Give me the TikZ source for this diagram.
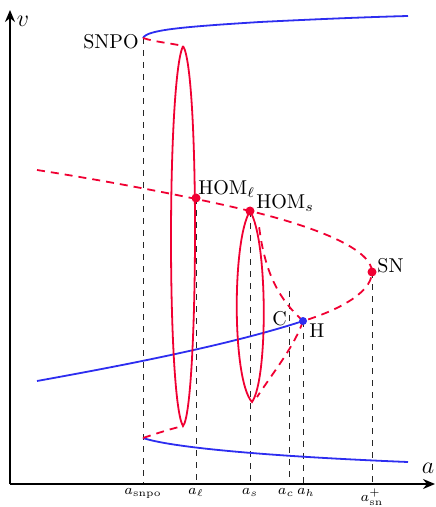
\documentclass[tikz,border=0pt]{standalone}
\usetikzlibrary{arrows.meta}
\definecolor{bred}{RGB}{240,0,50}
\definecolor{bblue}{RGB}{45,45,240}
\begin{document}
\begin{tikzpicture}[x=0.5pt,y=-0.5pt,
  axis/.style={line width=0.9pt,-{Stealth[length=6pt,width=5pt]}},
  guide/.style={dashed,line width=0.5pt,black!85},
  stab/.style={bblue,line width=0.9pt},
  unst/.style={bred,line width=0.9pt,dash pattern=on 4pt off 3pt},
  orb/.style={bred,line width=0.9pt},
  rdot/.style={circle,fill=bred,inner sep=0pt,minimum size=4.5pt},
  bdot/.style={circle,fill=bblue,inner sep=0pt,minimum size=4pt},
  tick/.style={anchor=north,font=\scriptsize,inner sep=1pt}]
\useasboundingbox (0,0) rectangle (435,507);
% key points
\coordinate (o) at (10,484);
\coordinate (snpo) at (143,38);
\coordinate (snpob) at (143,438);
\coordinate (Ltop) at (183,46);
\coordinate (Lbot) at (183,426);
\coordinate (homl) at (196,198);
\coordinate (homs) at (250,211);
\coordinate (Sbot) at (252,402);
\coordinate (sn) at (372,272);
\coordinate (h) at (303,321);
\coordinate (c) at (289,291);
\coordinate (ul) at (37,170);
\coordinate (sl) at (37,381);
\coordinate (ue) at (408,16);
\coordinate (le) at (408,462);
% guides
\foreach \p in {snpo,homl,homs,c,h,sn}{
  \draw[guide] (\p) -- (\p |- o);
}
\node[tick] (t1) at (143,486) {$a_{\mathrm{snpo}}$};
\node[tick] (t2) at (196,486) {$a_\ell$};
\node[tick] (t3) at (250,486) {$a_s$};
\node[tick] (t4) at (286,486) {$a_c$};
\node[tick] (t5) at (306,486) {$a_h$};
\node[tick] (t6) at (372,486) {$a_{\mathrm{sn}}^{+}$};
% axes
\coordinate (xend) at (435,484);
\coordinate (yend) at (10,10);
\draw[axis] (o) -- (xend);
\draw[axis] (o) -- (yend);
\node[font=\large] (vlab) at (23,21) {$v$};
\node[font=\large] (alab) at (428,468) {$a$};
% blue branches
\draw[stab] (snpo) .. controls (147,30) and (180,27) .. (260,22) .. controls (320,19) and (370,17) .. (ue);
\draw[stab] (snpob) .. controls (170,447) and (260,456) .. (le);
\draw[stab] (sl) .. controls (120,366) and (230,345) .. (h);
% unstable branches
\draw[unst] (snpo) .. controls (155,42) and (170,43) .. (Ltop);
\draw[unst] (snpob) .. controls (155,434) and (170,429) .. (Lbot);
\draw[unst] (ul) .. controls (120,183) and (200,199) .. (homs) .. controls (320,228) and (372,250) .. (sn) .. controls (372,295) and (330,313) .. (h);
\draw[unst] (h) .. controls (280,300) and (265,275) .. (259,226);
\draw[unst] (h) .. controls (295,345) and (275,370) .. (257,397);
% periodic orbit loops
\draw[orb] (Ltop) .. controls (167,80) and (167,400) .. (Lbot) .. controls (198,410) and (200,70) .. (Ltop);
\draw[orb] (homs) .. controls (232,240) and (232,380) .. (Sbot) .. controls (268,380) and (268,240) .. (homs);
% dots
\node[rdot] (d1) at (homl) {};
\node[rdot] (d2) at (homs) {};
\node[rdot] (d3) at (sn) {};
\node[bdot] (d4) at (h) {};
% labels
\node[anchor=east,inner sep=0pt] (lsnpo) at (139,42) {SNPO};
\node[anchor=base west,inner sep=0pt] (lhoml) at (198,195) {HOM$_\ell$};
\node[anchor=base west,inner sep=0pt] (lhoms) at (256,209) {HOM$_s$};
\node[anchor=base west,inner sep=0pt] (lsn) at (377,272) {SN};
\node[anchor=base west,inner sep=0pt] (lc) at (272,325) {C};
\node[anchor=base west,inner sep=0pt] (lh) at (309,337) {H};
\end{tikzpicture}
\end{document}
